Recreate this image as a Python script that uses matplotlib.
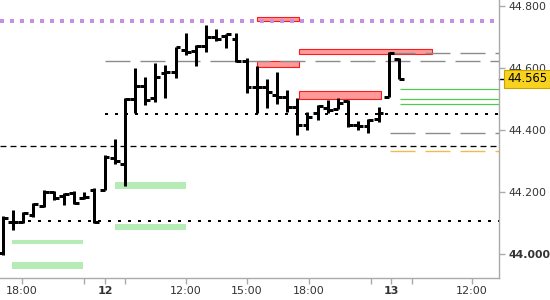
import numpy as np
import matplotlib
matplotlib.use("Agg")
import matplotlib.pyplot as plt
from matplotlib.patches import Rectangle

plt.rcParams.update({
    "font.family": "DejaVu Sans",
    "lines.scale_dashes": False,
})

# --- OHLC data (bar index on x) ---
opens = [44.003, 44.103, 44.103, 44.126, 44.155, 44.200, 44.187, 44.197, 44.181, 44.206,
         44.206, 44.310, 44.290, 44.500, 44.542, 44.502, 44.583, 44.588, 44.658, 44.656,
         44.671, 44.700, 44.702, 44.694, 44.624, 44.540, 44.540, 44.513, 44.506, 44.474,
         44.416, 44.455, 44.471, 44.468, 44.494, 44.416, 44.413, 44.435, 44.506, 44.628]
highs = [44.123, 44.142, 44.135, 44.165, 44.206, 44.203, 44.197, 44.203, 44.200, 44.213,
         44.319, 44.371, 44.503, 44.600, 44.572, 44.616, 44.610, 44.669, 44.712, 44.674,
         44.739, 44.726, 44.710, 44.712, 44.631, 44.606, 44.565, 44.587, 44.529, 44.503,
         44.458, 44.481, 44.497, 44.503, 44.497, 44.429, 44.435, 44.474, 44.652, 44.632]
lows = [43.997, 44.077, 44.100, 44.119, 44.152, 44.174, 44.158, 44.161, 44.177, 44.100,
        44.206, 44.290, 44.219, 44.455, 44.481, 44.491, 44.502, 44.567, 44.642, 44.607,
        44.652, 44.687, 44.663, 44.620, 44.520, 44.454, 44.470, 44.484, 44.459, 44.384,
        44.400, 44.432, 44.455, 44.468, 44.410, 44.400, 44.390, 44.426, 44.506, 44.565]
closes = [44.116, 44.103, 44.132, 44.161, 44.200, 44.181, 44.194, 44.165, 44.184, 44.103,
          44.313, 44.301, 44.500, 44.542, 44.497, 44.570, 44.588, 44.667, 44.651, 44.671,
          44.700, 44.694, 44.710, 44.624, 44.540, 44.540, 44.524, 44.506, 44.473, 44.416,
          44.442, 44.477, 44.465, 44.487, 44.416, 44.413, 44.432, 44.455, 44.648, 44.565]

# axis ticks
price_ticks = [44.0, 44.2, 44.4, 44.6, 44.8]
time_tick_pos = [1.87, 10.05, 18.03, 24.04, 30.15, 38.23, 46.2]
time_tick_lbl = ["18:00", "12", "12:00", "15:00", "18:00", "13", "12:00"]
time_minor_pos = [7.98, 12.02, 36.26, 40.3]

# horizontal levels: (price, start index)
purple_level = (44.753, -0.3)
gray_levels = [(44.622, 10.05), (44.649, 38.1), (44.391, 38.1)]
orange_levels = [(44.332, 38.1)]
dotted_levels = [(44.452, 10.05), (44.107, 2.5)]
dashed_levels = [(44.348, -0.3)]
green_levels = [(44.531, 39.1), (44.500, 39.1), (44.484, 39.1)]

# zones: (x0, x1, low, high)
red_zones = [(25.02, 29.16, 44.7516, 44.7645), (29.16, 42.27, 44.644, 44.660),
             (25.02, 29.16, 44.604, 44.6226), (29.16, 37.2, 44.501, 44.526)]
green_zones = [(11.03, 18.03, 44.2097, 44.232), (11.03, 18.03, 44.077, 44.097),
               (0.89, 7.88, 44.032, 44.046), (0.89, 7.88, 43.953, 43.974)]

last_price = 44.565

fig = plt.figure(figsize=(5.5, 3), dpi=100)
ax = fig.add_axes([0, 22 / 300, 499 / 550, 278 / 300])
xmin, xmax = -0.3, 48.87
ax.set_xlim(xmin, xmax)
ax.set_ylim(43.9226, 44.8194)

for x0, x1, lo, hi in green_zones:
    ax.add_patch(Rectangle((x0, lo), x1 - x0, hi - lo, fc="#b5ebb5", ec="none", zorder=1))
for x0, x1, lo, hi in red_zones:
    ax.add_patch(Rectangle((x0, lo), x1 - x0, hi - lo, fc="#ff9a9a", ec="#ff1a1a", lw=0.8, zorder=1))

px = 0.72  # points per pixel at 100 dpi
ax.hlines(purple_level[0], purple_level[1], xmax, color="#c690e6", lw=4 * px,
          linestyles=[(0, (4 * px, 6 * px))], zorder=2)
for p, s in gray_levels:
    ax.hlines(p, s, xmax, color="#8c8c8c", lw=1.4 * px, linestyles=[(0, (25 * px, 10 * px))], zorder=2)
for p, s in orange_levels:
    ax.hlines(p, s, xmax, color="#f2b94d", lw=1.4 * px, linestyles=[(0, (25 * px, 10 * px))], zorder=2)
for p, s in dotted_levels:
    ax.hlines(p, s, xmax, color="black", lw=2 * px, linestyles=[(0, (3 * px, 7 * px))], zorder=2)
for p, s in dashed_levels:
    ax.hlines(p, s, xmax, color="black", lw=1.3 * px, linestyles=[(0, (6 * px, 4 * px))], zorder=2)
for p, s in green_levels:
    ax.hlines(p, s, xmax, color="#4ccc4c", lw=1.2 * px, zorder=2)

# OHLC bars
idx = np.arange(len(opens))
bw = 3 * px
ax.vlines(idx, lows, highs, color="black", lw=bw, zorder=3)
ax.hlines(opens, idx - 0.48, idx, color="black", lw=bw, zorder=3)
ax.hlines(closes, idx, idx + 0.48, color="black", lw=bw, zorder=3)

# axes styling
for side in ["left", "top"]:
    ax.spines[side].set_visible(False)
for side in ["right", "bottom"]:
    ax.spines[side].set_color("#aaaaaa")
    ax.spines[side].set_linewidth(1)

ax.yaxis.tick_right()
ax.set_yticks(price_ticks)
ax.set_yticklabels([f"{v:.3f}" for v in price_ticks])
ax.tick_params(axis="y", colors="#aaaaaa", labelcolor="#333333", length=4, width=1,
               labelsize=7.8, pad=3, direction="out")
ax.get_yticklabels()[0].set_fontweight("bold")

ax.set_xticks(time_tick_pos)
ax.set_xticklabels(time_tick_lbl)
ax.set_xticks(time_minor_pos, minor=True)
ax.tick_params(axis="x", which="both", colors="#aaaaaa", labelcolor="#333333", length=4,
               width=1, labelsize=8, pad=2)
for lbl in ax.get_xticklabels():
    if lbl.get_text() in ("12", "13"):
        lbl.set_fontweight("bold")

# last price marker
ytr = ax.get_yaxis_transform()
ax.plot([1.0, 1.012], [last_price, last_price], transform=ytr, color="black", lw=1, clip_on=False)
ax.text(1.016, last_price, f"{last_price:.3f}", transform=ytr, ha="left", va="center",
        fontsize=8.3, color="black", zorder=10,
        bbox=dict(boxstyle="square,pad=0.22", fc="#f7d21e", ec="#c9a200", lw=0.8))

fig.savefig("out.png", dpi=100)
